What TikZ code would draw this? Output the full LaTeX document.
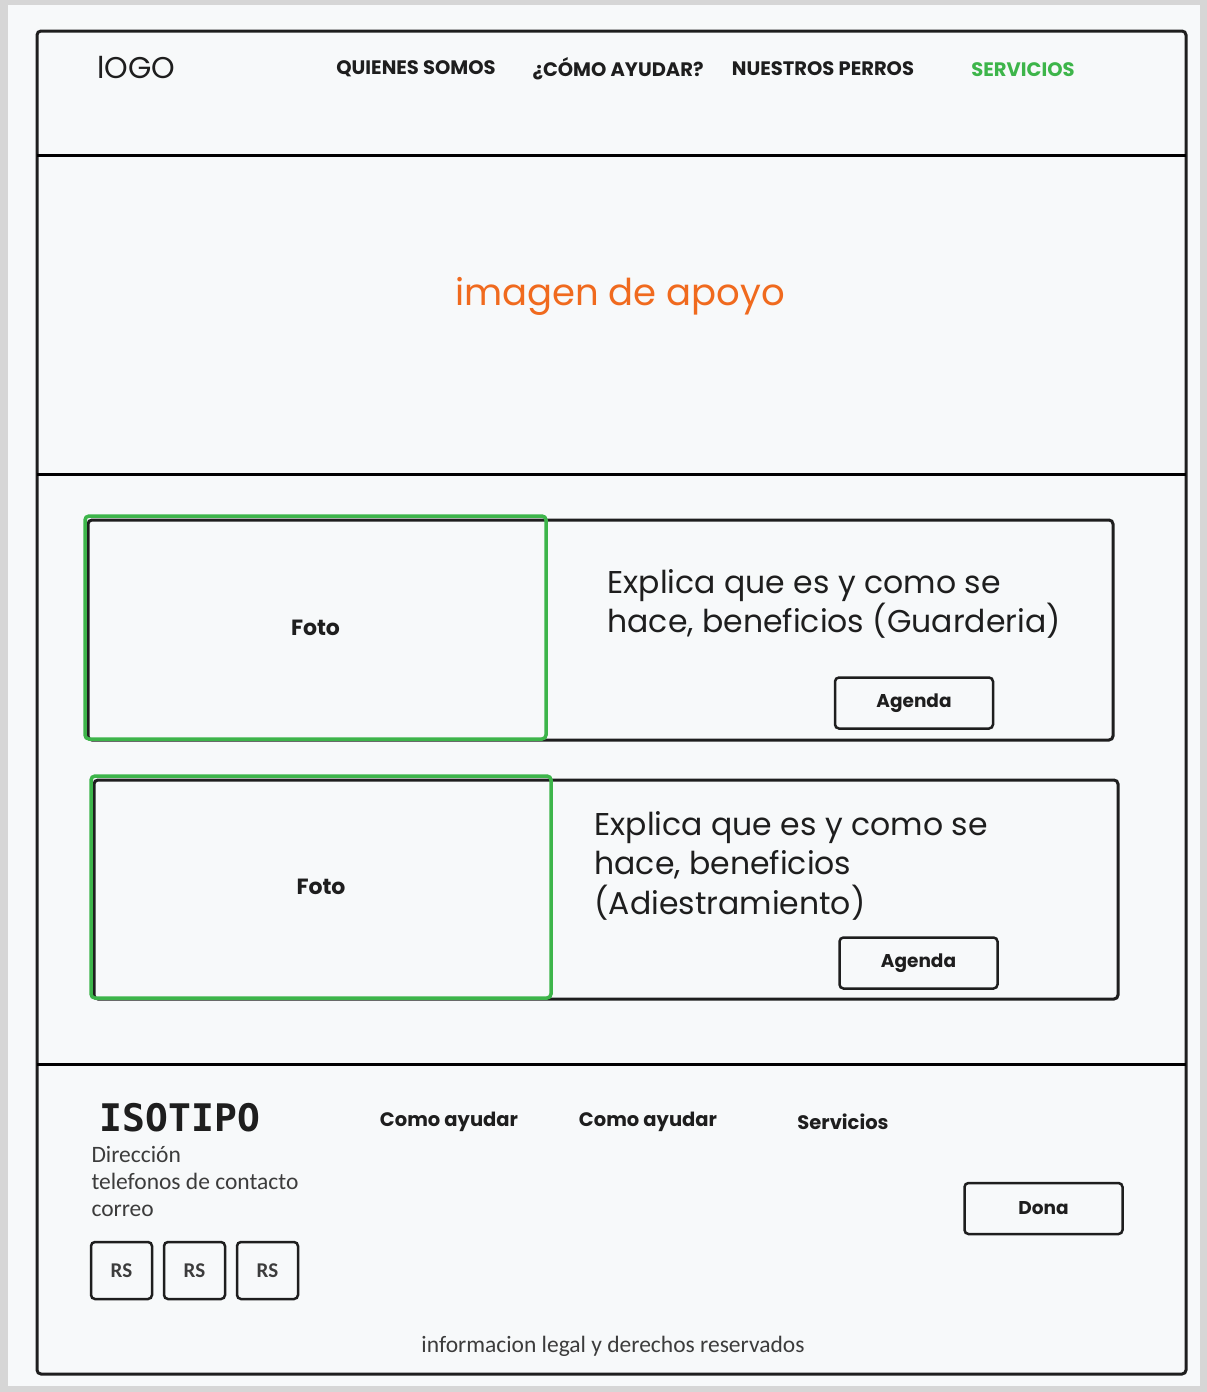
\documentclass[tikz,border=0pt]{standalone}
\usepackage{fontspec}
\newfontfamily\sketchfont{Poppins}
\newfontfamily\plainfont{Carlito}
\newfontfamily\typefont{DejaVu Sans Mono}
\usetikzlibrary{positioning}
\definecolor{cink}{HTML}{1E1E1E}
\definecolor{cgreen}{HTML}{3DB54A}
\definecolor{corange}{HTML}{F06A1E}
\definecolor{cpaper}{HTML}{F7F9FA}
\definecolor{cedge}{HTML}{D6D6D6}
\definecolor{cgrey}{HTML}{3C3C3C}
\tikzset{
  every picture/.style={x=1pt, y=-1pt, line width=3pt},
  card/.style={draw=cink, rounded corners=4pt},
  btn/.style={draw=cink, rounded corners=4pt, line width=2.5pt, minimum width=158pt, minimum height=51pt, font=\sketchfont\bfseries\fontsize{18.5}{20}\selectfont, text=cink},
  navlink/.style={font=\sketchfont\bfseries\fontsize{19.5}{22}\selectfont, text=cink},
}

\begin{document}
\begin{tikzpicture}[
  desc/.style={font=\sketchfont\fontsize{31.5}{39.5}\selectfont, text=cink, align=left, anchor=north west, inner sep=0pt},
  foto/.style={draw=cgreen, line width=3.5pt, rounded corners=4pt, font=\sketchfont\bfseries\fontsize{22}{24}\selectfont, text=cink},
  rs/.style={draw=cink, rounded corners=4pt, line width=2.5pt, minimum width=61pt, minimum height=57pt, font=\plainfont\bfseries\fontsize{21}{24}\selectfont, text=cgrey},
  info/.style={font=\plainfont\fontsize{23.5}{27}\selectfont, text=cgrey, inner sep=0pt},
  flink/.style={font=\sketchfont\bfseries\fontsize{19.5}{22}\selectfont, text=cink},
]
  % paper and frame
  \fill[cedge] (0,0) rectangle (1207,1392);
  \fill[cpaper] (8,5) rectangle (1200,1386);
  \useasboundingbox (0,0) rectangle (1207,1392);
  \draw[card] (37,31) rectangle (1186,1374);
  \draw (37,155) -- (1186,155);
  \draw (37,474) -- (1186,474);
  \draw (37,1064) -- (1186,1064);

  % header
  \node[navlink, font=\sketchfont\fontsize{30}{32}\selectfont] (logo) at (136,68) {lOGO};
  \node[navlink] (quienes) at (416,69) {QUIENES SOMOS};
  \node[navlink] (ayudar) at (618,69) {¿CÓMO AYUDAR?};
  \node[navlink] (perros) at (823,69) {NUESTROS PERROS};
  \node[navlink, text=cgreen] (servicios) at (1023,70) {SERVICIOS};

  \node[font=\sketchfont\fontsize{37}{42}\selectfont, text=corange] (hero) at (620,296) {imagen de apoyo};

  % cards
  \draw[card] (88,520) rectangle (1113,740);
  \node[foto, minimum width=461pt, minimum height=223pt] (foto1) at (315.5,627.5) {Foto};
  \node[desc] (desc1) at (606,568) {Explica que es y como se\\hace, beneficios (Guarderia)};
  \node[btn] (agenda1) at (914,703) {Agenda};

  \draw[card] (94,780) rectangle (1118,999);
  \node[foto, minimum width=460pt, minimum height=222pt] (foto2) at (321,887) {Foto};
  \node[desc] (desc2) at (593,810) {Explica que es y como se\\hace, beneficios\\(Adiestramiento)};
  \node[btn] (agenda2) at (918.5,963) {Agenda};

  % footer
  \node[flink, font=\typefont\bfseries\fontsize{38}{40}\selectfont, anchor=west] (isotipo) at (95,1118) {ISOTIPO};
  \node[info, align=left, anchor=north west] (contacto) at (90,1145) {Dirección\\telefonos de contacto\\correo};
  \node[rs] (rs1) at (121.5,1270.5) {RS};
  \node[rs, right=9.5pt of rs1] (rs2) {RS};
  \node[rs, right=9.5pt of rs2] (rs3) {RS};
  \node[flink] (fayudar1) at (449,1122) {Como ayudar};
  \node[flink] (fayudar2) at (648,1122) {Como ayudar};
  \node[flink] (fservicios) at (843,1122) {Servicios};
  \node[btn] (dona) at (1043.5,1208.5) {Dona};
  \node[info] (legal) at (613,1346) {informacion legal y derechos reservados};
\end{tikzpicture}
\end{document}
